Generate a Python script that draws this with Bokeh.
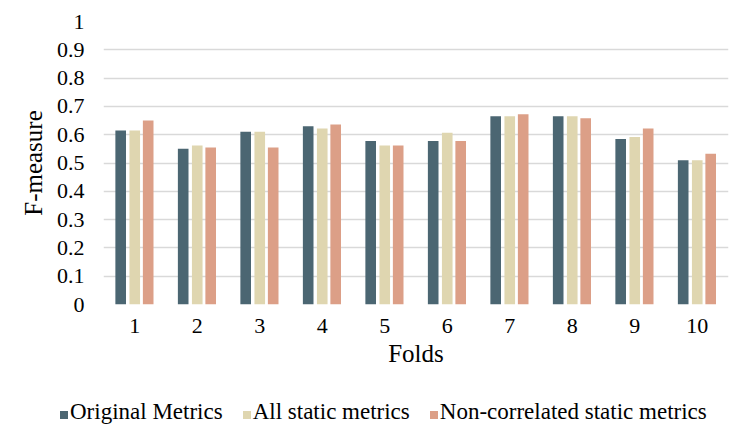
from bokeh.plotting import figure
from bokeh.models import FactorRange, ColumnDataSource, FixedTicker, CustomJSTickFormatter, Range1d, Div
from bokeh.layouts import column
from bokeh.transform import dodge
from bokeh.embed import file_html
from bokeh.resources import INLINE

folds = ["1", "2", "3", "4", "5", "6", "7", "8", "9", "10"]
original = [0.615, 0.55, 0.61, 0.63, 0.578, 0.578, 0.665, 0.665, 0.585, 0.51]
all_static = [0.615, 0.562, 0.61, 0.622, 0.562, 0.607, 0.665, 0.665, 0.592, 0.51]
non_corr = [0.65, 0.555, 0.555, 0.636, 0.562, 0.578, 0.672, 0.658, 0.622, 0.533]
series_names = ["Original Metrics", "All static metrics", "Non-correlated static metrics"]
colors = ["#4b6672", "#dfd6b0", "#dc9f87"]
y_ticks = [0, 0.1, 0.2, 0.3, 0.4, 0.5, 0.6, 0.7, 0.8, 0.9, 1]

FONT = "Liberation Serif"

src = ColumnDataSource(dict(folds=folds, original=original, all_static=all_static, non_corr=non_corr))

p = figure(x_range=FactorRange(*folds, range_padding=0), y_range=Range1d(0, 1),
           width=734, height=374, output_backend="svg", toolbar_location=None,
           min_border_left=103, min_border_right=6, min_border_top=21, min_border_bottom=70)

for col, off, c in zip(["original", "all_static", "non_corr"], [-0.225, 0.0, 0.215], colors):
    p.vbar(x=dodge("folds", off, range=p.x_range), top=col, width=0.17, source=src,
           fill_color=c, line_color=None)

p.outline_line_color = None
p.background_fill_color = "white"
p.border_fill_color = "white"
p.xgrid.grid_line_color = None
p.ygrid.grid_line_color = "#d9d9d9"
p.ygrid.grid_line_width = 1.5

p.yaxis.ticker = FixedTicker(ticks=y_ticks)
p.yaxis.formatter = CustomJSTickFormatter(code="return String(Math.round(tick*10)/10);")
for ax in (p.xaxis, p.yaxis):
    ax.axis_line_color = None
    ax.major_tick_line_color = None
    ax.minor_tick_line_color = None
    ax.major_tick_out = 0
    ax.major_tick_in = 0
    ax.major_label_text_font = FONT
    ax.major_label_text_font_size = "22px"
    ax.major_label_text_color = "black"
    ax.axis_label_text_font = FONT
    ax.axis_label_text_font_size = "25px"
    ax.axis_label_text_font_style = "normal"
    ax.axis_label_text_color = "black"
p.yaxis.major_label_standoff = 19
p.xaxis.major_label_standoff = 14
p.yaxis.axis_label = "F-measure"
p.xaxis.axis_label = "Folds"
p.yaxis.axis_label_standoff = 7
p.xaxis.axis_label_standoff = 4

# legend row below the chart (real text)
items_html = []
for i, (name, c) in enumerate(zip(series_names, colors)):
    gap = "" if i == 0 else "margin-left:20px;"
    items_html.append(
        f'<span style="{gap}display:inline-block;width:8px;height:8px;background:{c};'
        f'margin-right:2px;"></span><span>{name}</span>'
    )
legend_div = Div(
    width=734, height=60,
    text=(f'<div style="font-family:\'{FONT}\';font-size:23px;color:black;white-space:nowrap;'
          f'padding-left:55px;padding-top:20px;line-height:26px;">' + "".join(items_html) + "</div>"),
)

layout = column(p, legend_div, spacing=0)
open("out.html", "w").write(file_html(layout, INLINE))
